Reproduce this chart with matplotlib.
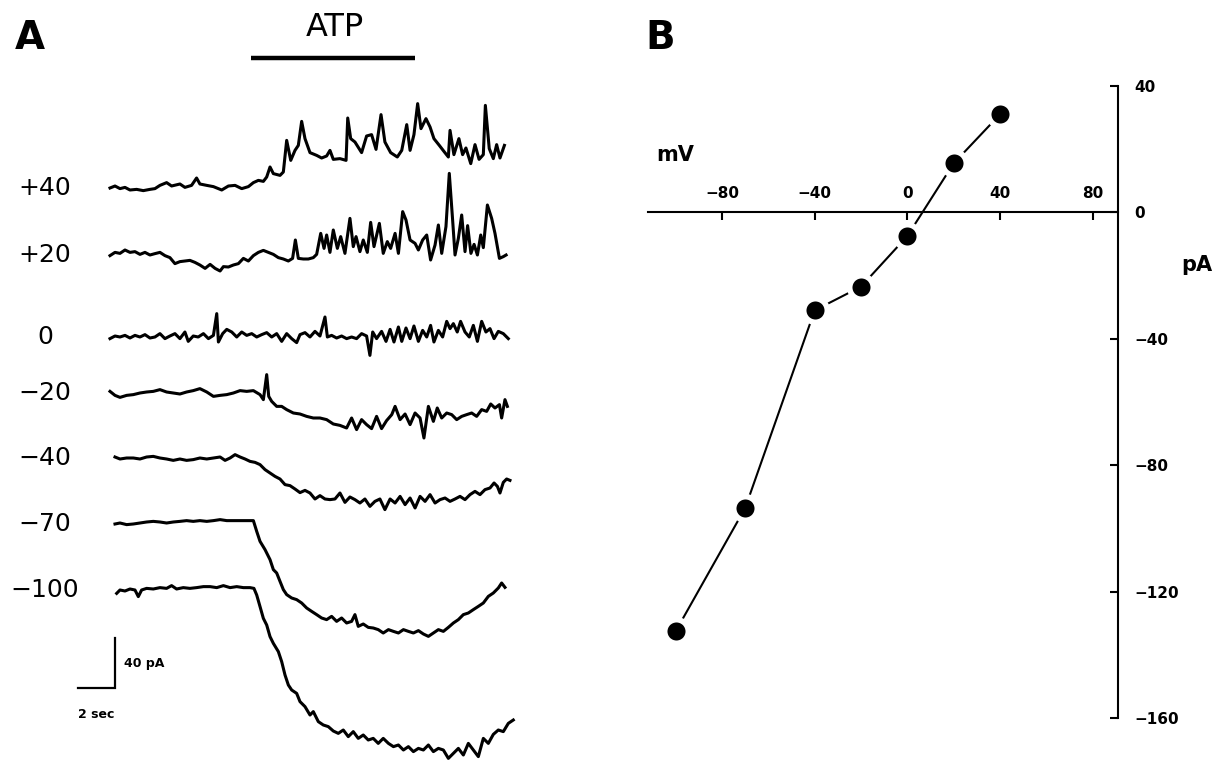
import matplotlib
matplotlib.use('Agg')
import matplotlib.pyplot as plt

plt.rcParams['font.family'] = ['DejaVu Sans']

# --- Panel A: whole-cell currents (time in s, current in pA, relative to holding) ---
t_p40 = [0.00, 0.27, 0.54, 0.81, 1.08, 1.44, 1.80, 2.16, 2.43, 2.70, 3.06, 3.33, 3.78, 4.05, 4.41, 4.68,
         4.86, 5.23, 5.59, 6.04, 6.40, 6.76, 7.12, 7.48, 7.75, 8.02, 8.29, 8.47, 8.65, 8.83, 9.19, 9.37,
         9.55, 9.77, 10.00, 10.18, 10.36, 10.54, 10.81, 11.17, 11.44, 11.71, 11.89, 12.07, 12.43, 12.76,
         12.85, 13.01, 13.24, 13.60, 13.87, 14.14, 14.38, 14.65, 14.86, 15.17, 15.53, 15.77, 16.04, 16.22,
         16.43, 16.63, 16.81, 17.08, 17.30, 17.51, 17.80, 18.05, 18.29, 18.38, 18.59, 18.86, 19.06, 19.24,
         19.50, 19.73, 19.95, 20.18, 20.29, 20.50, 20.72, 20.90, 21.08, 21.32]
i_p40 = [0.0, 1.6, -0.5, 0.5, -1.6, -1.1, -2.1, -1.1, -0.5, 2.1, 4.3, 1.6, 3.2, 0.5, 2.1, 8.0,
         3.2, 2.1, 1.1, -1.6, 1.6, 2.1, -0.5, 1.1, 4.3, 6.1, 5.3, 8.8, 16.8, 11.5, 10.1, 12.8,
         38.1, 22.1, 30.1, 34.1, 53.3, 39.5, 28.3, 26.1, 24.0, 25.6, 30.1, 22.9, 23.5, 22.1,
         56.0, 39.5, 36.8, 28.3, 41.6, 42.7, 30.9, 58.7, 36.8, 28.3, 24.8, 30.1, 50.7, 30.1,
         42.7, 67.5, 47.5, 55.5, 48.8, 39.5, 34.1, 29.3, 24.8, 46.1, 26.7, 39.5, 26.7, 32.0,
         19.5, 34.7, 22.9, 26.7, 66.1, 31.5, 23.5, 34.7, 24.0, 34.1]

t_p20 = [0.00, 0.27, 0.54, 0.81, 1.08, 1.35, 1.62, 1.89, 2.16, 2.43, 2.70, 2.97, 3.24, 3.51, 3.78, 4.05,
         4.32, 4.59, 4.86, 5.14, 5.41, 5.68, 5.95, 6.13, 6.40, 6.67, 6.94, 7.21, 7.48, 7.75, 8.02, 8.29,
         8.56, 8.83, 9.10, 9.37, 9.64, 9.87, 10.02, 10.18, 10.45, 10.72, 10.99, 11.17, 11.39, 11.57,
         11.71, 11.89, 12.07, 12.29, 12.47, 12.70, 12.97, 13.15, 13.30, 13.51, 13.69, 13.91, 14.09,
         14.27, 14.56, 14.77, 14.99, 15.17, 15.41, 15.59, 15.82, 16.00, 16.22, 16.49, 16.67, 16.90,
         17.12, 17.33, 17.57, 17.75, 17.93, 18.16, 18.34, 18.52, 18.65, 18.83, 19.01, 19.19, 19.33,
         19.51, 19.68, 19.86, 20.04, 20.18, 20.40, 20.63, 20.81, 21.05, 21.26, 21.41]
i_p20 = [-0.5, 2.1, 1.3, 4.0, 2.1, 2.7, 0.5, 2.1, 0.0, 1.1, 2.1, -0.5, -2.1, -6.9, -5.3, -4.8,
         -4.3, -5.9, -8.0, -10.7, -7.5, -10.7, -12.8, -9.3, -9.6, -8.0, -6.9, -2.7, -4.8, -0.5, 2.1, 3.7,
         2.1, 0.5, -2.1, -3.2, -4.8, -2.7, 12.0, -2.7, -3.2, -3.2, -2.1, 0.5, 17.3, 5.3,
         16.0, 2.1, 20.0, 5.3, 14.7, 1.3, 29.3, 6.7, 14.7, 2.7, 12.0, 2.1, 26.1,
         6.7, 25.3, 1.3, 10.7, 5.3, 17.3, 1.3, 34.7, 28.0, 12.0, 9.3, 4.0, 12.0,
         16.0, -4.0, 8.0, 24.0, 1.3, 22.7, 65.3, 28.0, 0.0, 13.3, 32.0, 2.7, 23.5,
         1.3, 8.5, 0.0, 16.0, 5.9, 40.0, 29.3, 17.3, -2.7, -1.3, 0.0]

t_0 = [0.00, 0.27, 0.54, 0.81, 1.08, 1.35, 1.62, 1.89, 2.16, 2.43, 2.70, 2.97, 3.24, 3.51, 3.78, 4.05,
       4.23, 4.50, 4.77, 5.05, 5.32, 5.59, 5.77, 5.86, 6.09, 6.31, 6.58, 6.85, 7.12, 7.39, 7.66, 7.93,
       8.20, 8.47, 8.74, 9.01, 9.28, 9.55, 9.82, 10.09, 10.27, 10.54, 10.81, 11.08, 11.35, 11.62,
       11.75, 11.98, 12.25, 12.52, 12.79, 13.06, 13.33, 13.60, 13.87, 14.05, 14.20, 14.41, 14.68,
       14.92, 15.14, 15.35, 15.59, 15.77, 16.00, 16.22, 16.43, 16.67, 16.90, 17.12, 17.33, 17.51,
       17.75, 17.98, 18.20, 18.38, 18.56, 18.77, 18.95, 19.19, 19.42, 19.64, 19.86, 20.09, 20.32,
       20.54, 20.76, 20.99, 21.26, 21.53]
i_0 = [-1.3, 0.8, 0.0, 1.3, -0.8, 1.3, 0.0, 1.9, -0.8, 0.0, 2.7, -1.3, 0.8, 2.7, -1.3, 4.0,
       -3.5, 0.8, 0.0, 2.7, -1.3, 1.3, 18.7, -4.0, 2.7, 6.1, 4.0, 0.0, 4.0, 1.3, 2.7, 0.0,
       1.9, 3.5, 0.0, 2.7, -3.5, 2.7, -1.3, -4.5, 1.9, 3.5, 0.0, 4.5, 0.8, 16.0,
       0.0, 1.3, -0.8, 0.8, -1.3, 0.0, -1.3, 2.7, 0.8, -14.7, 4.0, -1.3, 4.5,
       -3.5, 6.1, -4.0, 8.0, -3.5, 7.2, -1.3, 8.8, -3.5, 5.3, 0.0, 9.3, -4.0,
       5.3, 0.0, 12.5, 6.7, 10.7, 4.0, 12.5, 4.0, 0.0, 9.3, -3.5, 12.5, 4.0,
       6.7, -1.3, 4.5, 2.7, -1.3]

t_m20 = [0.00, 0.27, 0.54, 0.90, 1.26, 1.62, 1.98, 2.34, 2.70, 3.06, 3.42, 3.78, 4.14, 4.50, 4.86,
         5.23, 5.59, 5.95, 6.31, 6.67, 7.03, 7.39, 7.75, 8.11, 8.29, 8.47, 8.58, 8.74, 9.01, 9.28,
         9.55, 9.91, 10.27, 10.63, 10.99, 11.35, 11.71, 12.07, 12.43, 12.79, 13.06, 13.33, 13.60,
         13.87, 14.14, 14.41, 14.68, 14.95, 15.23, 15.41, 15.68, 15.95, 16.22, 16.49, 16.76, 16.97,
         17.21, 17.48, 17.69, 17.93, 18.20, 18.47, 18.74, 19.01, 19.28, 19.55, 19.82, 20.09, 20.36,
         20.58, 20.81, 21.05, 21.17, 21.35, 21.48]
i_m20 = [1.3, -1.9, -3.5, -1.9, -1.3, 0.0, 0.8, 1.3, 2.7, 0.8, 0.0, -0.8, 0.8, 1.9, 3.5,
         0.8, -2.7, -1.9, -1.3, 0.0, 1.9, 1.3, 1.9, -1.3, -5.3, 14.7, -2.7, -6.7, -10.7, -10.7,
         -13.3, -16.0, -16.8, -18.7, -20.0, -20.0, -21.3, -24.8, -25.9, -28.0, -20.0, -29.3, -21.3,
         -25.3, -28.5, -18.7, -28.5, -22.1, -17.3, -10.7, -21.3, -16.8, -25.3, -16.0, -20.0, -36.0,
         -10.7, -22.7, -12.0, -20.0, -16.0, -17.3, -21.3, -18.7, -17.3, -16.0, -18.7, -13.3, -14.7,
         -8.8, -12.0, -9.3, -20.0, -5.3, -10.7]

t_m40 = [0.27, 0.54, 0.90, 1.26, 1.62, 1.98, 2.34, 2.70, 3.06, 3.42, 3.78, 4.14, 4.50, 4.86, 5.23,
         5.59, 5.95, 6.22, 6.49, 6.76, 7.03, 7.30, 7.57, 7.84, 8.11, 8.38, 8.65, 8.92, 9.19, 9.46,
         9.73, 10.00, 10.27, 10.54, 10.81, 11.08, 11.35, 11.62, 11.89, 12.16, 12.43, 12.70, 12.97,
         13.24, 13.51, 13.78, 14.05, 14.32, 14.59, 14.86, 15.14, 15.41, 15.68, 15.95, 16.22, 16.49,
         16.76, 17.03, 17.30, 17.57, 17.84, 18.11, 18.38, 18.65, 18.92, 19.19, 19.46, 19.73, 20.00,
         20.27, 20.54, 20.76, 20.94, 21.08, 21.26, 21.44, 21.62]
i_m40 = [0.8, -0.8, 0.0, 0.0, -0.8, 0.8, 1.3, 0.0, -0.8, -1.9, -0.8, -1.9, -1.3, 0.0, -0.8,
         0.0, 0.8, -1.9, 0.0, 2.7, 0.8, -0.8, -2.7, -3.5, -5.3, -9.3, -12.0, -14.7, -16.8, -21.3,
         -22.1, -24.8, -27.7, -25.9, -28.0, -32.8, -30.1, -32.8, -33.3, -32.8, -28.0, -35.5, -31.2,
         -33.3, -36.0, -32.8, -38.7, -34.7, -32.8, -41.3, -32.8, -36.0, -30.7, -37.3, -32.0, -40.0,
         -30.7, -34.7, -29.3, -36.0, -33.3, -32.0, -34.7, -32.8, -30.7, -33.3, -29.3, -26.7, -29.3,
         -25.3, -24.0, -20.0, -22.7, -28.0, -19.5, -16.8, -17.9]

t_m70 = [0.27, 0.54, 0.90, 1.26, 1.62, 1.98, 2.34, 2.70, 3.06, 3.42, 3.78, 4.14, 4.50, 4.86, 5.23,
         5.59, 5.95, 6.31, 6.67, 7.03, 7.39, 7.75, 7.93, 8.11, 8.38, 8.65, 8.83, 9.01, 9.19, 9.37,
         9.55, 9.82, 10.09, 10.36, 10.63, 10.90, 11.17, 11.44, 11.71, 11.98, 12.25, 12.52, 12.79,
         13.06, 13.24, 13.42, 13.69, 13.96, 14.23, 14.50, 14.77, 15.05, 15.32, 15.59, 15.86, 16.13,
         16.40, 16.67, 16.94, 17.21, 17.48, 17.75, 18.02, 18.29, 18.56, 18.83, 19.10, 19.37, 19.64,
         19.91, 20.18, 20.45, 20.72, 20.99, 21.17, 21.35]
i_m70 = [0.0, 0.8, -0.5, 0.0, 0.8, 1.6, 2.1, 1.6, 0.8, 1.6, 2.1, 2.7, 2.1, 2.7, 2.1,
         2.7, 3.5, 2.7, 2.7, 2.7, 2.7, 2.7, -5.9, -13.9, -20.5, -28.5, -36.5, -39.2, -45.9, -52.5,
         -56.5, -59.2, -60.5, -63.2, -67.2, -69.9, -72.5, -75.2, -76.5, -73.9, -77.9, -75.2, -79.2,
         -77.9, -72.5, -81.9, -80.0, -82.7, -83.2, -84.5, -87.2, -84.5, -85.9, -87.2, -84.5, -85.9,
         -87.2, -85.3, -88.0, -89.9, -87.2, -84.5, -85.9, -82.7, -79.2, -76.5, -72.5, -71.2, -68.5,
         -65.9, -63.2, -57.9, -55.2, -51.2, -47.2, -50.7]

t_m100 = [0.36, 0.54, 0.81, 1.08, 1.35, 1.53, 1.71, 1.98, 2.34, 2.70, 3.06, 3.33, 3.60, 3.96, 4.32,
          4.68, 5.05, 5.41, 5.77, 6.13, 6.49, 6.85, 7.21, 7.57, 7.78, 7.93, 8.11, 8.29, 8.47, 8.65,
          8.83, 9.10, 9.28, 9.46, 9.64, 9.82, 10.09, 10.27, 10.54, 10.81, 10.99, 11.26, 11.53, 11.80,
          12.07, 12.34, 12.61, 12.88, 13.15, 13.42, 13.69, 13.96, 14.23, 14.50, 14.77, 15.05, 15.32,
          15.59, 15.86, 16.13, 16.40, 16.67, 16.94, 17.21, 17.48, 17.75, 18.02, 18.29, 18.56, 18.83,
          19.10, 19.37, 19.64, 19.91, 20.18, 20.45, 20.72, 20.99, 21.26, 21.53, 21.80]
i_m100 = [-2.7, 0.0, -0.8, 0.8, 0.0, -5.3, 0.0, 1.3, 0.8, 1.9, 1.3, 3.5, 0.8, 1.9, 1.3,
          1.9, 2.7, 2.7, 1.9, 3.5, 1.9, 2.7, 1.9, 1.9, 1.3, -4.0, -13.3, -22.7, -28.0, -37.3,
          -42.7, -49.3, -57.3, -68.0, -76.0, -80.0, -82.7, -89.3, -93.3, -100.0, -97.3, -105.3, -108.0,
          -109.3, -112.8, -114.7, -112.0, -117.3, -113.3, -118.7, -116.0, -120.0, -118.7, -122.7, -118.7,
          -122.7, -125.3, -124.0, -128.0, -125.3, -129.3, -126.7, -128.0, -124.0, -129.3, -126.7, -128.0,
          -134.7, -130.7, -126.7, -132.0, -122.7, -128.0, -133.3, -118.7, -122.7, -115.5, -112.0, -113.3,
          -106.7, -104.0]

trace_labels = ['+40', '+20', '0', '\u221220', '\u221240', '\u221270', '\u2212100']
trace_t = [t_p40, t_p20, t_0, t_m20, t_m40, t_m70, t_m100]
trace_i = [i_p40, i_p20, i_0, i_m20, i_m40, i_m70, i_m100]

atp_on, atp_off = 7.6, 16.5        # s
bar_pa, bar_s = 40, 2              # scale bar

# --- Panel B: I-V relation ---
iv_mv = [40, 20, 0, -20, -40, -70, -100]
iv_pa = [31, 15.5, -7.5, -23.5, -31, -93.5, -132.5]

# layout (pixels of the 1220x766 canvas)
W, H = 1220, 766
PX_S, PX_PA = 18.5, 1.25     # trace scale in panel A
T0_PX = 110
row_px = [188, 255, 337, 393, 458, 524, 590]

fig = plt.figure(figsize=(12.2, 7.66), dpi=100)

ax_a = fig.add_axes([0, 0, 610 / W, 1])
ax_a.set_xlim(-T0_PX / PX_S, (610 - T0_PX) / PX_S)
ax_a.set_ylim(-H / PX_PA, 0)
ax_a.axis('off')

for tt, ii, base in zip(trace_t, trace_i, row_px):
    off = -base / PX_PA
    ax_a.plot(tt, [v + off for v in ii], color='black', lw=2.2, solid_joinstyle='round')

for lab, base in zip(trace_labels, row_px):
    fig.text(45 / W, 1 - base / H, lab, fontsize=18, ha='center', va='center')

# ATP application bar
ax_a.plot([atp_on, atp_off], [-58 / PX_PA] * 2, color='black', lw=3.2, solid_capstyle='butt')
fig.text(335 / W, 1 - 28 / H, 'ATP', fontsize=23, ha='center', va='center')

# scale bar
sb_t = (115 - T0_PX) / PX_S
sb_y = -688 / PX_PA
ax_a.plot([sb_t - bar_s, sb_t, sb_t], [sb_y, sb_y, sb_y + bar_pa], color='black', lw=1.6,
          solid_joinstyle='miter')
fig.text(124 / W, 1 - 663 / H, f'{bar_pa} pA', fontsize=9, fontweight='bold', ha='left', va='center')
fig.text(96 / W, 1 - 714 / H, f'{bar_s} sec', fontsize=9, fontweight='bold', ha='center', va='center')

fig.text(30 / W, 1 - 38 / H, 'A', fontsize=28, fontweight='bold', ha='center', va='center')
fig.text(660 / W, 1 - 38 / H, 'B', fontsize=28, fontweight='bold', ha='center', va='center')

# panel B axes: horizontal axis through 0 pA, vertical axis on the right
ax_b = fig.add_axes([648 / W, 1 - 718 / H, 470 / W, 632 / H])
ax_b.set_xlim(-112, 91)
ax_b.set_ylim(-160, 40)
ax_b.patch.set_visible(False)
ax_b.spines['left'].set_visible(False)
ax_b.spines['bottom'].set_visible(False)
ax_b.spines['top'].set_position(('data', 0))
for s in ('top', 'right'):
    ax_b.spines[s].set_linewidth(1.5)

ax_b.xaxis.set_ticks_position('top')
ax_b.yaxis.set_ticks_position('right')
ax_b.set_xticks([-80, -40, 0, 40, 80])
ax_b.set_yticks([40, 0, -40, -80, -120, -160])
ax_b.tick_params(axis='x', direction='in', length=6, width=1.5, pad=8, labelsize=11)
ax_b.tick_params(axis='y', direction='in', length=6, width=1.5, pad=12, labelsize=11)
for lab in ax_b.get_xticklabels() + ax_b.get_yticklabels():
    lab.set_fontweight('bold')

ax_b.plot(iv_mv, iv_pa, color='black', lw=1.5, marker='o', ms=17, mfc='black',
          mec='white', mew=4, clip_on=False)

fig.text(675 / W, 1 - 155 / H, 'mV', fontsize=15, fontweight='bold', ha='center', va='center')
fig.text(1197 / W, 1 - 265 / H, 'pA', fontsize=15, fontweight='bold', ha='center', va='center')

fig.savefig('out.png', dpi=100)
